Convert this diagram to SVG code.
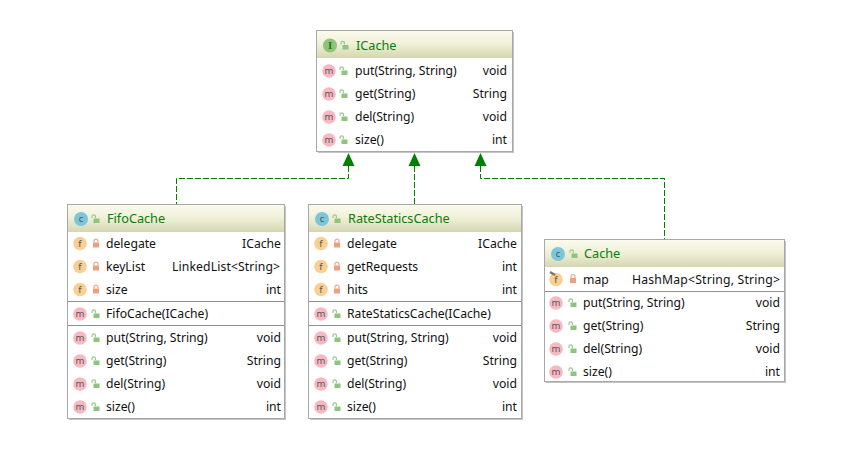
<svg xmlns="http://www.w3.org/2000/svg" width="843" height="449" viewBox="0 0 843 449">
<style>
text{font-family:"Noto Sans","Open Sans","Liberation Sans",sans-serif;font-size:12.2px;fill:#111}
.t{font-size:12.7px;fill:#0a7d0a}
.e{text-anchor:end}
.b{fill:#fff;stroke:#a8a8a8;stroke-width:1}
.s{fill:#c4c4c4}
.d{stroke:#8f8f8f;stroke-width:1}
.bl{font-size:9.5px;text-anchor:middle;fill:#555}
.bi{font-family:"DejaVu Serif",serif;font-size:9px;font-weight:bold;text-anchor:middle;fill:#3c6b30}
.c{fill:none;stroke:#008000;stroke-width:1;stroke-dasharray:6 2}
</style>
<defs>
<linearGradient id="h" x1="0" y1="0" x2="0" y2="1"><stop offset="0" stop-color="#fbfbee"/><stop offset="0.5" stop-color="#efefd8"/><stop offset="1" stop-color="#d5d6b0"/></linearGradient>
<g id="pub"><path d="M-4 -1V-2.500a1.700 1.700 0 0 1 3.400 0V-1" fill="none" stroke="#9cc88f" stroke-width="1.200"/><rect x="-2.500" y="-0.500" width="6" height="4.500" fill="#8fc47f"/></g>
<g id="pri"><path d="M-2 -1V-2.300a2 2 0 0 1 4 0V-1" fill="none" stroke="#eda98c" stroke-width="1.200"/><rect x="-3" y="-1" width="6" height="5" fill="#ee9f80"/></g>
<g id="m"><circle r="6.800" fill="#f8b8c2"/><text class="bl" y="3">m</text></g>
<g id="f"><circle r="6.800" fill="#f9cf94"/><text class="bl" y="3">f</text></g>
<g id="cl"><circle r="7" fill="#7ac6da"/><text class="bl" y="3">c</text></g>
<g id="in"><circle r="7" fill="#8cc47a"/><text class="bi" y="3">I</text></g>
<path id="ar" d="M0 0L6 13H-6Z" fill="#008000"/>
</defs>

<g id="connectors">
<path class="c" d="M348.500 166V178.500H176.500V205"/>
<path class="c" d="M414.500 166V205"/>
<path class="c" d="M480.500 166V178.500H664.500V240"/>
<use href="#ar" x="348.500" y="153"/>
<use href="#ar" x="414.500" y="153"/>
<use href="#ar" x="480.500" y="153"/>
</g>

<g id="ICache">
<rect class="s" x="318" y="32" width="196" height="121"/>
<rect class="b" x="316.500" y="30.500" width="196" height="121"/>
<rect x="317" y="31" width="195" height="27" fill="url(#h)"/>
<use href="#in" x="330" y="45.500"/><use href="#pub" x="345" y="45.500"/>
<text class="t" x="356" y="50">ICache</text>
<use href="#m" x="329" y="71"/><use href="#pub" x="344" y="71"/><text x="355" y="75">put(String, String)</text><text class="e" x="507" y="75">void</text>
<use href="#m" x="329" y="94"/><use href="#pub" x="344" y="94"/><text x="355" y="98">get(String)</text><text class="e" x="507" y="98">String</text>
<use href="#m" x="329" y="117"/><use href="#pub" x="344" y="117"/><text x="355" y="121">del(String)</text><text class="e" x="507" y="121">void</text>
<use href="#m" x="329" y="140"/><use href="#pub" x="344" y="140"/><text x="355" y="144">size()</text><text class="e" x="507" y="144">int</text>
</g>

<g id="FifoCache">
<rect class="s" x="69" y="206" width="217" height="214"/>
<rect class="b" x="67.500" y="204.500" width="217" height="214"/>
<rect x="68" y="205" width="216" height="27" fill="url(#h)"/>
<use href="#cl" x="81" y="219"/><use href="#pub" x="96" y="219"/>
<text class="t" x="107" y="223">FifoCache</text>
<use href="#f" x="80" y="243.500"/><use href="#pri" x="96" y="243.500"/><text x="106" y="248">delegate</text><text class="e" x="281" y="248">ICache</text>
<use href="#f" x="80" y="266.500"/><use href="#pri" x="96" y="266.500"/><text x="106" y="271">keyList</text><text x="172" y="271" textLength="108">LinkedList&lt;String&gt;</text>
<use href="#f" x="80" y="289.500"/><use href="#pri" x="96" y="289.500"/><text x="106" y="294">size</text><text class="e" x="281" y="294">int</text>
<line class="d" x1="68" y1="301.500" x2="284" y2="301.500"/>
<use href="#m" x="80" y="314"/><use href="#pub" x="96" y="314"/><text x="106" y="318">FifoCache(ICache)</text>
<line class="d" x1="68" y1="325.500" x2="284" y2="325.500"/>
<use href="#m" x="80" y="338"/><use href="#pub" x="96" y="338"/><text x="106" y="342">put(String, String)</text><text class="e" x="281" y="342">void</text>
<use href="#m" x="80" y="361"/><use href="#pub" x="96" y="361"/><text x="106" y="365">get(String)</text><text class="e" x="281" y="365">String</text>
<use href="#m" x="80" y="384"/><use href="#pub" x="96" y="384"/><text x="106" y="388">del(String)</text><text class="e" x="281" y="388">void</text>
<use href="#m" x="80" y="407"/><use href="#pub" x="96" y="407"/><text x="106" y="411">size()</text><text class="e" x="281" y="411">int</text>
</g>

<g id="RateStaticsCache">
<rect class="s" x="310" y="206" width="213" height="214"/>
<rect class="b" x="308.500" y="204.500" width="213" height="214"/>
<rect x="309" y="205" width="212" height="27" fill="url(#h)"/>
<use href="#cl" x="322" y="219"/><use href="#pub" x="337" y="219"/>
<text class="t" x="348" y="223">RateStaticsCache</text>
<use href="#f" x="321" y="243.500"/><use href="#pri" x="337" y="243.500"/><text x="347" y="248">delegate</text><text class="e" x="517" y="248">ICache</text>
<use href="#f" x="321" y="266.500"/><use href="#pri" x="337" y="266.500"/><text x="347" y="271">getRequests</text><text class="e" x="517" y="271">int</text>
<use href="#f" x="321" y="289.500"/><use href="#pri" x="337" y="289.500"/><text x="347" y="294">hits</text><text class="e" x="517" y="294">int</text>
<line class="d" x1="309" y1="301.500" x2="521" y2="301.500"/>
<use href="#m" x="321" y="314"/><use href="#pub" x="337" y="314"/><text x="347" y="318">RateStaticsCache(ICache)</text>
<line class="d" x1="309" y1="325.500" x2="521" y2="325.500"/>
<use href="#m" x="321" y="338"/><use href="#pub" x="337" y="338"/><text x="347" y="342">put(String, String)</text><text class="e" x="517" y="342">void</text>
<use href="#m" x="321" y="361"/><use href="#pub" x="337" y="361"/><text x="347" y="365">get(String)</text><text class="e" x="517" y="365">String</text>
<use href="#m" x="321" y="384"/><use href="#pub" x="337" y="384"/><text x="347" y="388">del(String)</text><text class="e" x="517" y="388">void</text>
<use href="#m" x="321" y="407"/><use href="#pub" x="337" y="407"/><text x="347" y="411">size()</text><text class="e" x="517" y="411">int</text>
</g>

<g id="Cache">
<rect class="s" x="546" y="241" width="240" height="142"/>
<rect class="b" x="544.500" y="239.500" width="240" height="142"/>
<rect x="545" y="240" width="239" height="27" fill="url(#h)"/>
<use href="#cl" x="558" y="254"/><use href="#pub" x="574" y="254"/>
<text class="t" x="584" y="258">Cache</text>
<use href="#f" x="556" y="279.500"/><path d="M550 272L555 275" stroke="#777" stroke-width="2.500"/><use href="#pri" x="573" y="279"/><text x="583" y="284">map</text><text x="632" y="284" textLength="148">HashMap&lt;String, String&gt;</text>
<line class="d" x1="545" y1="291.500" x2="784" y2="291.500"/>
<use href="#m" x="556" y="303"/><use href="#pub" x="573" y="303"/><text x="583" y="307">put(String, String)</text><text class="e" x="780" y="307">void</text>
<use href="#m" x="556" y="326"/><use href="#pub" x="573" y="326"/><text x="583" y="330">get(String)</text><text class="e" x="780" y="330">String</text>
<use href="#m" x="556" y="349"/><use href="#pub" x="573" y="349"/><text x="583" y="353">del(String)</text><text class="e" x="780" y="353">void</text>
<use href="#m" x="556" y="372"/><use href="#pub" x="573" y="372"/><text x="583" y="376">size()</text><text class="e" x="780" y="376">int</text>
</g>
</svg>
